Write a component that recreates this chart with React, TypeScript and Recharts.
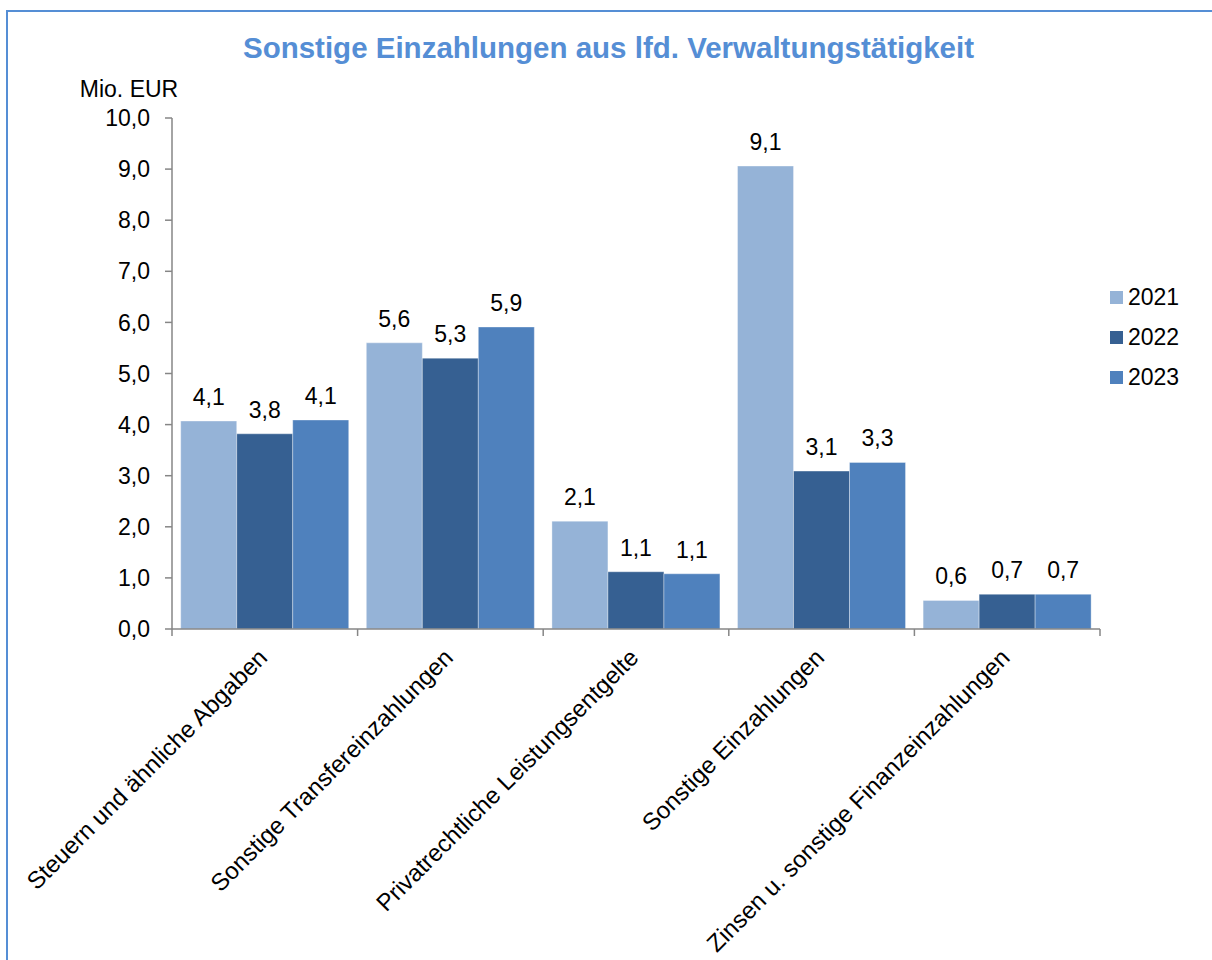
import React from 'react';
import { BarChart, Bar, XAxis, YAxis, Legend, LabelList, Label } from 'recharts';

const categories = [
  'Steuern und ähnliche Abgaben',
  'Sonstige Transfereinzahlungen',
  'Privatrechtliche Leistungsentgelte',
  'Sonstige Einzahlungen',
  'Zinsen u. sonstige Finanzeinzahlungen',
];
const values2021 = [4.07, 5.6, 2.11, 9.06, 0.56];
const values2022 = [3.82, 5.3, 1.12, 3.09, 0.68];
const values2023 = [4.09, 5.91, 1.08, 3.26, 0.68];
const seriesNames = ['2021', '2022', '2023'];
const seriesColors = ['#95B3D7', '#366092', '#4F81BD'];
const yTicks = [0, 1, 2, 3, 4, 5, 6, 7, 8, 9, 10];
const titleText = 'Sonstige Einzahlungen aus lfd. Verwaltungstätigkeit';
const unitText = 'Mio. EUR';

const data = categories.map((c, i) => ({
  name: c,
  '2021': values2021[i],
  '2022': values2022[i],
  '2023': values2023[i],
}));

const FONT = '"Liberation Sans", Arial, sans-serif';
const AXIS = '#868686';
const CHART_W = 1204;
const CHART_H = 948;
const YAXIS_W = 164;
const M_RIGHT = 112;
const M_TOP = 106;
const XAXIS_H = 331;
const PLOT_W = CHART_W - YAXIS_W - M_RIGHT;
const BAND = PLOT_W / categories.length;

const fmt = (v: number) => v.toFixed(1).replace('.', ',');

const XTick = (props: any) => {
  const { x, y, payload, index } = props;
  const isLast = index === categories.length - 1;
  const px = x + 4;
  const py = y + 30;
  return (
    <g>
      <line x1={x - BAND / 2} x2={x - BAND / 2} y1={y} y2={y + 7} stroke={AXIS} strokeWidth={1.5} />
      {isLast && (
        <line x1={x + BAND / 2} x2={x + BAND / 2} y1={y} y2={y + 7} stroke={AXIS} strokeWidth={1.5} />
      )}
      <text
        x={px}
        y={py}
        transform={`rotate(-45, ${px}, ${py})`}
        textAnchor="end"
        fontSize={24}
        fontFamily={FONT}
        fill="#000"
      >
        {payload.value}
      </text>
    </g>
  );
};

const LegendContent = () => (
  <div style={{ fontFamily: FONT, fontSize: 23, color: '#000' }}>
    {seriesNames.map((n, i) => (
      <div key={n} style={{ display: 'flex', alignItems: 'center', height: 40.4 }}>
        <div style={{ width: 13, height: 13, background: seriesColors[i], marginRight: 5 }} />
        <span>{n}</span>
      </div>
    ))}
  </div>
);

const UnitLabel = (props: any) => {
  const vb = props.viewBox || { x: 0, y: M_TOP, width: YAXIS_W };
  return (
    <text
      x={vb.x + vb.width - 43}
      y={vb.y - 21}
      textAnchor="middle"
      fontSize={23}
      fontFamily={FONT}
      fill="#000"
    >
      {unitText}
    </text>
  );
};

export default function App() {
  return (
    <>
      <style>{`html,body{margin:0;padding:0;overflow:hidden;background:#fff;}`}</style>
      <div
        style={{
          position: 'absolute',
          top: 10,
          left: 6,
          width: 1206,
          height: 950,
          boxSizing: 'border-box',
          borderTop: '2px solid #558ED5',
          borderLeft: '2px solid #558ED5',
          background: '#fff',
          fontFamily: FONT,
        }}
      >
        <div
          style={{
            position: 'absolute',
            top: 19,
            left: 0,
            width: 1201,
            textAlign: 'center',
            fontSize: 29.5,
            lineHeight: '34px',
            fontWeight: 'bold',
            color: '#558ED5',
            zIndex: 2,
          }}
        >
          {titleText}
        </div>
        <BarChart
          width={CHART_W}
          height={CHART_H}
          data={data}
          margin={{ top: M_TOP, right: M_RIGHT, bottom: 0, left: 0 }}
          barCategoryGap="4.7%"
          barGap={0}
        >
          <XAxis
            dataKey="name"
            height={XAXIS_H}
            interval={0}
            tickSize={0}
            tickMargin={0}
            tickLine={false}
            axisLine={{ stroke: AXIS, strokeWidth: 1.5 }}
            tick={<XTick />}
          />
          <YAxis
            width={YAXIS_W}
            domain={[0, 10]}
            ticks={yTicks}
            interval={0}
            tickSize={7}
            tickMargin={15}
            tickFormatter={fmt}
            axisLine={{ stroke: AXIS, strokeWidth: 1.5 }}
            tickLine={{ stroke: AXIS, strokeWidth: 1.5 }}
            tick={{ fontSize: 23, fill: '#000', fontFamily: FONT }}
          >
            <Label content={<UnitLabel />} />
          </YAxis>
          <Legend
            layout="vertical"
            align="center"
            verticalAlign="middle"
            content={<LegendContent />}
            wrapperStyle={{ left: 1102, top: 265, width: 90, height: 122 }}
          />
          {seriesNames.map((n, i) => (
            <Bar
              key={n}
              dataKey={n}
              fill={seriesColors[i]}
              stroke="rgba(255,255,255,0.35)"
              strokeWidth={1}
              isAnimationActive={false}
            >
              <LabelList
                dataKey={n}
                position="top"
                offset={16}
                formatter={(v: any) => fmt(Number(v))}
                style={{ fontSize: 23, fill: '#000', fontFamily: FONT }}
              />
            </Bar>
          ))}
        </BarChart>
      </div>
    </>
  );
}
